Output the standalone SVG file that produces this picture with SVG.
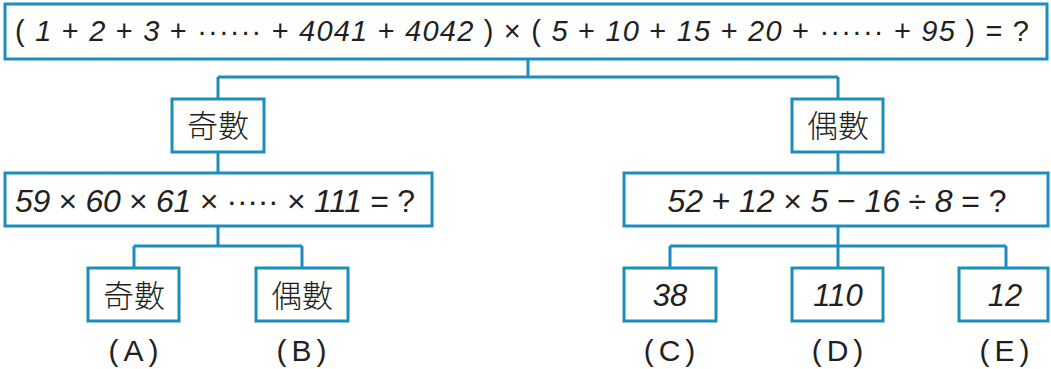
<svg xmlns="http://www.w3.org/2000/svg" width="1051" height="369" viewBox="0 0 1051 369">
<style>
.box{fill:#fff;stroke:#1a8fbe;stroke-width:3}
.con{fill:none;stroke:#1a8fbe;stroke-width:3}
.t{font-family:"Liberation Sans",Arial,sans-serif;fill:#231f20;text-anchor:middle}
.i{font-style:italic}
.lab{font-family:"Liberation Sans",Arial,sans-serif;fill:#231f20;text-anchor:middle;font-size:30px;letter-spacing:5px}
.cjk{font-family:"Noto Sans CJK TC","Noto Sans CJK SC",sans-serif;fill:#231f20;text-anchor:middle;font-weight:300}
</style>
<rect width="1051" height="369" fill="#fff"/>
<g id="connectors">
<path class="con" d="M528 59V77M218 77H838M218 77V99M838 77V99M218 152V173M838 152V173"/>
<path class="con" d="M218 226V246M134 246H302M134 246V268M302 246V268"/>
<path class="con" d="M838 226V268M670 246H1006M670 246V268M1006 246V268"/>
</g>
<g id="top">
<rect class="box" x="5" y="4" width="1042" height="55"/>
<text class="t" x="522" y="41" font-size="29" textLength="1014" lengthAdjust="spacing">( <tspan class="i">1</tspan> + <tspan class="i">2</tspan> + <tspan class="i">3</tspan> + ······ + <tspan class="i">4041</tspan> + <tspan class="i">4042</tspan> ) × ( <tspan class="i">5</tspan> + <tspan class="i">10</tspan> + <tspan class="i">15</tspan> + <tspan class="i">20</tspan> + ······ + <tspan class="i">95</tspan> ) = ?</text>
</g>
<g id="odd">
<rect class="box" x="172" y="99" width="92" height="53"/>
<text class="cjk" x="218" y="137" font-size="31">奇數</text>
</g>
<g id="even">
<rect class="box" x="792" y="99" width="91" height="53"/>
<text class="cjk" x="838" y="137" font-size="31">偶數</text>
</g>
<g id="product">
<rect class="box" x="5" y="173" width="427" height="53"/>
<text class="t" x="215" y="212" font-size="32" textLength="400" lengthAdjust="spacing"><tspan class="i">59</tspan> × <tspan class="i">60</tspan> × <tspan class="i">61</tspan> × ····· × <tspan class="i">111</tspan> = ?</text>
</g>
<g id="expr">
<rect class="box" x="624" y="173" width="424" height="53"/>
<text class="t" x="837" y="212" font-size="32" textLength="339" lengthAdjust="spacing"><tspan class="i">52</tspan> + <tspan class="i">12</tspan> × <tspan class="i">5</tspan> − <tspan class="i">16</tspan> ÷ <tspan class="i">8</tspan> = ?</text>
</g>
<g id="A">
<rect class="box" x="88" y="268" width="91" height="53"/>
<text class="cjk" x="134" y="307" font-size="31">奇數</text>
<text class="lab" x="136" y="361">(A)</text>
</g>
<g id="B">
<rect class="box" x="256" y="268" width="92" height="53"/>
<text class="cjk" x="302" y="307" font-size="31">偶數</text>
<text class="lab" x="304" y="361">(B)</text>
</g>
<g id="C">
<rect class="box" x="624" y="268" width="92" height="53"/>
<text class="t i" x="670" y="306" font-size="31">38</text>
<text class="lab" x="672" y="361">(C)</text>
</g>
<g id="D">
<rect class="box" x="792" y="268" width="91" height="53"/>
<text class="t i" x="838" y="306" font-size="31">110</text>
<text class="lab" x="840" y="361">(D)</text>
</g>
<g id="E">
<rect class="box" x="959" y="268" width="89" height="53"/>
<text class="t i" x="1005" y="306" font-size="31">12</text>
<text class="lab" x="1007" y="361">(E)</text>
</g>
</svg>
